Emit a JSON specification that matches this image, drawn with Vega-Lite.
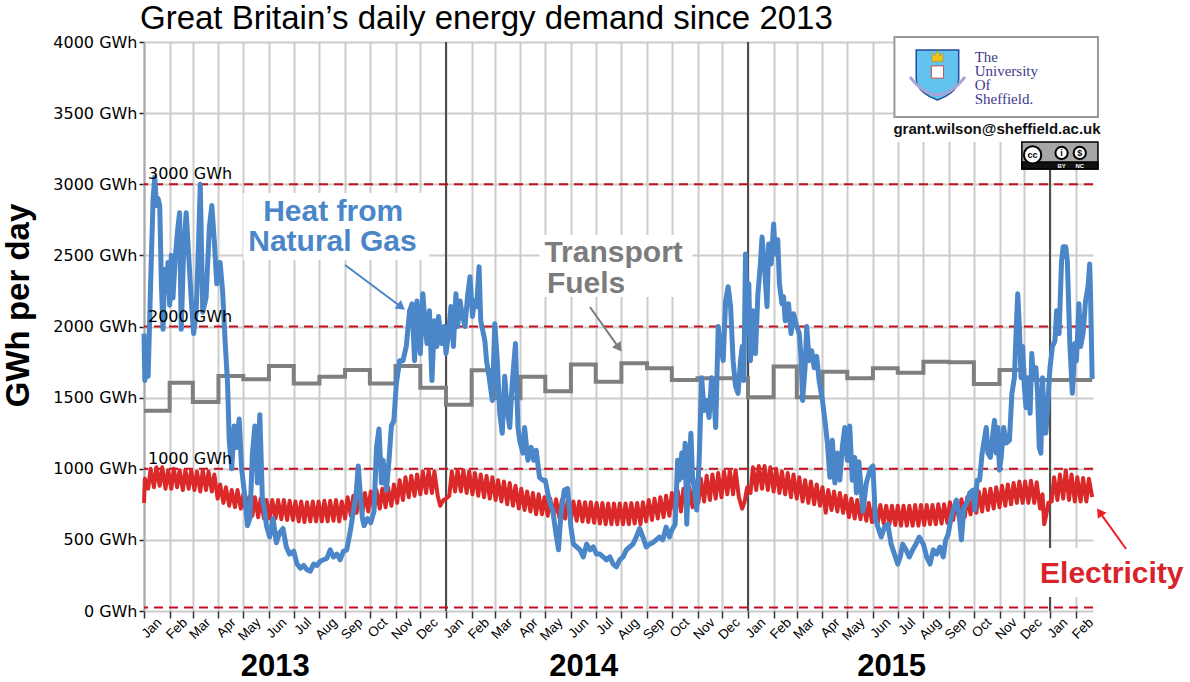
{
  "$schema": "https://vega.github.io/schema/vega-lite/v6.json",
  "width": 949,
  "height": 569,
  "autosize": {"type": "none"},
  "padding": {"left": 144, "top": 42, "right": 97, "bottom": 71},
  "background": "white",
  "title": {
    "text": "Great Britain’s daily energy demand since 2013",
    "anchor": "start",
    "frame": "group",
    "font": "Liberation Sans",
    "fontSize": 33,
    "fontWeight": "normal",
    "color": "#000000",
    "baseline": "alphabetic",
    "dx": -4,
    "offset": -28
  },
  "config": {"view": {"stroke": null}},
  "datasets": {
    "gas": [
      {"d":"2013-01-01","v":1950},{"d":"2013-01-02","v":1620},{"d":"2013-01-04","v":1760},{"d":"2013-01-06","v":1650},
      {"d":"2013-01-09","v":2300},{"d":"2013-01-12","v":2900},{"d":"2013-01-14","v":3050},{"d":"2013-01-16","v":2850},
      {"d":"2013-01-18","v":2900},{"d":"2013-01-20","v":2850},{"d":"2013-01-22","v":2300},{"d":"2013-01-24","v":1980},
      {"d":"2013-01-26","v":2400},{"d":"2013-01-28","v":2250},{"d":"2013-01-30","v":2450},{"d":"2013-02-01","v":2150},
      {"d":"2013-02-03","v":2500},{"d":"2013-02-05","v":2200},{"d":"2013-02-08","v":2500},{"d":"2013-02-11","v":2700},
      {"d":"2013-02-13","v":2800},{"d":"2013-02-15","v":1980},{"d":"2013-02-18","v":2550},{"d":"2013-02-21","v":2800},
      {"d":"2013-02-24","v":2500},{"d":"2013-02-27","v":2200},{"d":"2013-03-02","v":1950},{"d":"2013-03-05","v":2100},
      {"d":"2013-03-08","v":2600},{"d":"2013-03-10","v":3000},{"d":"2013-03-13","v":2100},{"d":"2013-03-17","v":2200},
      {"d":"2013-03-21","v":2700},{"d":"2013-03-24","v":2850},{"d":"2013-03-27","v":2600},{"d":"2013-03-30","v":2300},
      {"d":"2013-04-03","v":2450},{"d":"2013-04-06","v":2250},{"d":"2013-04-09","v":1900},{"d":"2013-04-12","v":1600},
      {"d":"2013-04-14","v":1200},{"d":"2013-04-17","v":1000},{"d":"2013-04-20","v":1300},{"d":"2013-04-23","v":1150},
      {"d":"2013-04-26","v":1350},{"d":"2013-04-29","v":1000},{"d":"2013-05-03","v":800},{"d":"2013-05-06","v":600},
      {"d":"2013-05-09","v":650},{"d":"2013-05-12","v":1100},{"d":"2013-05-15","v":1300},{"d":"2013-05-18","v":900},
      {"d":"2013-05-21","v":1380},{"d":"2013-05-24","v":800},{"d":"2013-05-27","v":700},{"d":"2013-05-29","v":600},
      {"d":"2013-06-02","v":520},{"d":"2013-06-06","v":650},{"d":"2013-06-10","v":480},{"d":"2013-06-14","v":550},
      {"d":"2013-06-18","v":580},{"d":"2013-06-22","v":450},{"d":"2013-06-26","v":400},{"d":"2013-07-01","v":420},
      {"d":"2013-07-05","v":330},{"d":"2013-07-09","v":300},{"d":"2013-07-13","v":320},{"d":"2013-07-17","v":290},
      {"d":"2013-07-21","v":280},{"d":"2013-07-25","v":330},{"d":"2013-07-29","v":320},{"d":"2013-08-02","v":350},
      {"d":"2013-08-06","v":360},{"d":"2013-08-10","v":370},{"d":"2013-08-14","v":430},{"d":"2013-08-18","v":380},
      {"d":"2013-08-22","v":400},{"d":"2013-08-26","v":360},{"d":"2013-08-30","v":420},{"d":"2013-09-03","v":430},
      {"d":"2013-09-07","v":550},{"d":"2013-09-11","v":700},{"d":"2013-09-14","v":800},{"d":"2013-09-17","v":1020},
      {"d":"2013-09-19","v":850},{"d":"2013-09-22","v":650},{"d":"2013-09-24","v":600},{"d":"2013-09-28","v":650},
      {"d":"2013-10-02","v":620},{"d":"2013-10-06","v":700},{"d":"2013-10-09","v":1150},{"d":"2013-10-12","v":1280},
      {"d":"2013-10-15","v":900},{"d":"2013-10-17","v":1060},{"d":"2013-10-21","v":850},{"d":"2013-10-24","v":1050},
      {"d":"2013-10-27","v":1300},{"d":"2013-10-30","v":1340},{"d":"2013-11-02","v":1600},{"d":"2013-11-06","v":1760},
      {"d":"2013-11-10","v":1760},{"d":"2013-11-14","v":1860},{"d":"2013-11-18","v":2110},{"d":"2013-11-21","v":2160},
      {"d":"2013-11-24","v":1760},{"d":"2013-11-27","v":2180},{"d":"2013-11-29","v":1950},{"d":"2013-12-01","v":1810},
      {"d":"2013-12-04","v":2230},{"d":"2013-12-07","v":2000},{"d":"2013-12-09","v":1880},{"d":"2013-12-12","v":2110},
      {"d":"2013-12-15","v":1620},{"d":"2013-12-18","v":2040},{"d":"2013-12-21","v":1860},{"d":"2013-12-23","v":2070},
      {"d":"2013-12-27","v":1880},{"d":"2013-12-30","v":2000},
      {"d":"2014-01-01","v":1810},{"d":"2014-01-04","v":1950},{"d":"2014-01-07","v":2140},{"d":"2014-01-10","v":1860},
      {"d":"2014-01-13","v":2230},{"d":"2014-01-15","v":2000},{"d":"2014-01-18","v":2180},{"d":"2014-01-21","v":2070},
      {"d":"2014-01-24","v":2000},{"d":"2014-01-27","v":2210},{"d":"2014-01-30","v":2350},{"d":"2014-02-02","v":2070},
      {"d":"2014-02-04","v":2180},{"d":"2014-02-07","v":2140},{"d":"2014-02-10","v":2420},{"d":"2014-02-12","v":2040},
      {"d":"2014-02-17","v":1900},{"d":"2014-02-19","v":1760},{"d":"2014-02-22","v":1650},{"d":"2014-02-26","v":1480},
      {"d":"2014-03-01","v":2020},{"d":"2014-03-04","v":1760},{"d":"2014-03-07","v":1390},{"d":"2014-03-10","v":1250},
      {"d":"2014-03-13","v":1650},{"d":"2014-03-16","v":1410},{"d":"2014-03-19","v":1290},{"d":"2014-03-22","v":1600},
      {"d":"2014-03-26","v":1880},{"d":"2014-03-29","v":1290},{"d":"2014-03-31","v":1200},{"d":"2014-04-04","v":1110},
      {"d":"2014-04-06","v":1290},{"d":"2014-04-10","v":1060},{"d":"2014-04-14","v":1150},{"d":"2014-04-17","v":1060},
      {"d":"2014-04-20","v":1130},{"d":"2014-04-24","v":940},{"d":"2014-04-28","v":920},{"d":"2014-05-01","v":920},
      {"d":"2014-05-04","v":830},{"d":"2014-05-07","v":750},{"d":"2014-05-10","v":710},{"d":"2014-05-14","v":540},
      {"d":"2014-05-17","v":430},{"d":"2014-05-20","v":690},{"d":"2014-05-24","v":850},{"d":"2014-05-28","v":860},
      {"d":"2014-06-01","v":590},{"d":"2014-06-04","v":470},{"d":"2014-06-08","v":450},{"d":"2014-06-12","v":430},
      {"d":"2014-06-16","v":380},{"d":"2014-06-20","v":470},{"d":"2014-06-24","v":430},{"d":"2014-06-28","v":450},
      {"d":"2014-07-02","v":400},{"d":"2014-07-06","v":400},{"d":"2014-07-10","v":380},{"d":"2014-07-14","v":360},
      {"d":"2014-07-18","v":380},{"d":"2014-07-22","v":330},{"d":"2014-07-26","v":310},{"d":"2014-07-30","v":360},
      {"d":"2014-08-03","v":380},{"d":"2014-08-07","v":430},{"d":"2014-08-11","v":450},{"d":"2014-08-15","v":470},
      {"d":"2014-08-19","v":520},{"d":"2014-08-23","v":580},{"d":"2014-08-27","v":520},{"d":"2014-08-31","v":450},
      {"d":"2014-09-04","v":470},{"d":"2014-09-08","v":480},{"d":"2014-09-12","v":500},{"d":"2014-09-16","v":520},
      {"d":"2014-09-20","v":500},{"d":"2014-09-24","v":590},{"d":"2014-09-28","v":520},{"d":"2014-10-01","v":570},
      {"d":"2014-10-05","v":610},{"d":"2014-10-08","v":1060},{"d":"2014-10-10","v":920},{"d":"2014-10-13","v":1110},
      {"d":"2014-10-15","v":940},{"d":"2014-10-17","v":1180},{"d":"2014-10-19","v":610},{"d":"2014-10-21","v":940},
      {"d":"2014-10-24","v":1250},{"d":"2014-10-26","v":940},{"d":"2014-10-29","v":830},{"d":"2014-10-31","v":710},
      {"d":"2014-11-03","v":1060},{"d":"2014-11-06","v":1640},{"d":"2014-11-09","v":1410},{"d":"2014-11-12","v":1480},
      {"d":"2014-11-15","v":1360},{"d":"2014-11-18","v":1640},{"d":"2014-11-21","v":1480},{"d":"2014-11-23","v":1290},
      {"d":"2014-11-26","v":2000},{"d":"2014-11-29","v":1860},{"d":"2014-12-02","v":1760},{"d":"2014-12-05","v":2180},
      {"d":"2014-12-08","v":2280},{"d":"2014-12-11","v":2140},{"d":"2014-12-14","v":1760},{"d":"2014-12-17","v":1580},
      {"d":"2014-12-20","v":1530},{"d":"2014-12-23","v":1760},{"d":"2014-12-25","v":1860},{"d":"2014-12-27","v":1620},
      {"d":"2014-12-29","v":2510},{"d":"2014-12-31","v":1950},
      {"d":"2015-01-02","v":2300},{"d":"2015-01-04","v":1760},{"d":"2015-01-07","v":2110},{"d":"2015-01-10","v":1810},
      {"d":"2015-01-13","v":2230},{"d":"2015-01-16","v":2440},{"d":"2015-01-18","v":2630},{"d":"2015-01-21","v":2420},
      {"d":"2015-01-24","v":2140},{"d":"2015-01-26","v":2580},{"d":"2015-01-29","v":2440},{"d":"2015-02-01","v":2720},
      {"d":"2015-02-03","v":2510},{"d":"2015-02-06","v":2610},{"d":"2015-02-08","v":2300},{"d":"2015-02-11","v":2160},
      {"d":"2015-02-13","v":2210},{"d":"2015-02-15","v":2040},{"d":"2015-02-19","v":2160},{"d":"2015-02-22","v":1950},
      {"d":"2015-02-25","v":2090},{"d":"2015-03-01","v":2000},{"d":"2015-03-04","v":1950},{"d":"2015-03-06","v":1790},
      {"d":"2015-03-08","v":1480},{"d":"2015-03-11","v":1710},{"d":"2015-03-13","v":2000},{"d":"2015-03-16","v":1760},
      {"d":"2015-03-19","v":1830},{"d":"2015-03-22","v":1710},{"d":"2015-03-25","v":1790},{"d":"2015-03-28","v":1620},
      {"d":"2015-04-01","v":1480},{"d":"2015-04-04","v":1340},{"d":"2015-04-07","v":1180},{"d":"2015-04-10","v":940},
      {"d":"2015-04-13","v":1200},{"d":"2015-04-16","v":900},{"d":"2015-04-19","v":1110},{"d":"2015-04-22","v":920},
      {"d":"2015-04-25","v":1150},{"d":"2015-04-28","v":1290},{"d":"2015-05-01","v":1060},{"d":"2015-05-04","v":1300},
      {"d":"2015-05-07","v":920},{"d":"2015-05-10","v":1080},{"d":"2015-05-12","v":830},{"d":"2015-05-15","v":1050},
      {"d":"2015-05-20","v":700},{"d":"2015-05-24","v":900},{"d":"2015-05-29","v":1000},{"d":"2015-06-01","v":1020},
      {"d":"2015-06-04","v":650},{"d":"2015-06-07","v":590},{"d":"2015-06-11","v":520},{"d":"2015-06-15","v":590},
      {"d":"2015-06-19","v":610},{"d":"2015-06-23","v":470},{"d":"2015-06-27","v":400},{"d":"2015-07-01","v":330},
      {"d":"2015-07-04","v":380},{"d":"2015-07-07","v":470},{"d":"2015-07-11","v":430},{"d":"2015-07-15","v":380},
      {"d":"2015-07-19","v":430},{"d":"2015-07-23","v":470},{"d":"2015-07-27","v":520},{"d":"2015-08-01","v":470},
      {"d":"2015-08-05","v":380},{"d":"2015-08-09","v":330},{"d":"2015-08-13","v":430},{"d":"2015-08-17","v":400},
      {"d":"2015-08-21","v":450},{"d":"2015-08-25","v":380},{"d":"2015-08-28","v":500},{"d":"2015-08-31","v":540},
      {"d":"2015-09-03","v":640},{"d":"2015-09-06","v":710},{"d":"2015-09-10","v":780},{"d":"2015-09-13","v":690},
      {"d":"2015-09-16","v":500},{"d":"2015-09-19","v":730},{"d":"2015-09-22","v":750},{"d":"2015-09-26","v":830},
      {"d":"2015-09-30","v":850},{"d":"2015-10-02","v":710},{"d":"2015-10-05","v":920},{"d":"2015-10-08","v":920},
      {"d":"2015-10-11","v":1110},{"d":"2015-10-13","v":1180},{"d":"2015-10-16","v":1290},{"d":"2015-10-18","v":1110},
      {"d":"2015-10-21","v":1080},{"d":"2015-10-24","v":1250},{"d":"2015-10-26","v":1340},{"d":"2015-10-28","v":1110},
      {"d":"2015-10-30","v":1290},{"d":"2015-11-01","v":990},{"d":"2015-11-03","v":1080},{"d":"2015-11-06","v":1290},
      {"d":"2015-11-09","v":1180},{"d":"2015-11-13","v":1200},{"d":"2015-11-16","v":1530},{"d":"2015-11-19","v":1640},
      {"d":"2015-11-21","v":1950},{"d":"2015-11-23","v":2230},{"d":"2015-11-25","v":2000},{"d":"2015-11-27","v":1640},
      {"d":"2015-11-29","v":1860},{"d":"2015-12-01","v":1580},{"d":"2015-12-03","v":1430},{"d":"2015-12-05","v":1640},
      {"d":"2015-12-08","v":1390},{"d":"2015-12-10","v":1810},{"d":"2015-12-12","v":1640},{"d":"2015-12-15","v":1710},
      {"d":"2015-12-17","v":1530},{"d":"2015-12-19","v":1150},{"d":"2015-12-21","v":1110},{"d":"2015-12-23","v":1640},
      {"d":"2015-12-25","v":1290},{"d":"2015-12-27","v":1250},{"d":"2015-12-29","v":1430},
      {"d":"2016-01-01","v":1710},{"d":"2016-01-04","v":1860},{"d":"2016-01-07","v":1900},{"d":"2016-01-09","v":2110},
      {"d":"2016-01-12","v":1950},{"d":"2016-01-15","v":2460},{"d":"2016-01-17","v":2560},{"d":"2016-01-20","v":2560},
      {"d":"2016-01-22","v":2460},{"d":"2016-01-25","v":1880},{"d":"2016-01-28","v":1530},{"d":"2016-01-31","v":1880},
      {"d":"2016-02-02","v":1760},{"d":"2016-02-05","v":2160},{"d":"2016-02-07","v":1860},{"d":"2016-02-10","v":1950},
      {"d":"2016-02-13","v":2180},{"d":"2016-02-16","v":2280},{"d":"2016-02-18","v":2440},{"d":"2016-02-19","v":2230},
      {"d":"2016-02-21","v":1630}
    ],
    "elec": [
      {"d":"2013-01-01","v":760},{"d":"2013-01-02","v":930},{"d":"2013-01-06","v":860},{"d":"2013-01-09","v":1000},
      {"d":"2013-01-13","v":870},{"d":"2013-01-16","v":1010},{"d":"2013-01-20","v":880},{"d":"2013-01-23","v":1010},
      {"d":"2013-01-27","v":860},{"d":"2013-01-30","v":990},{"d":"2013-02-03","v":860},{"d":"2013-02-06","v":1000},
      {"d":"2013-02-10","v":870},{"d":"2013-02-13","v":990},{"d":"2013-02-17","v":850},{"d":"2013-02-20","v":990},
      {"d":"2013-02-24","v":860},{"d":"2013-02-27","v":990},{"d":"2013-03-03","v":850},{"d":"2013-03-06","v":980},
      {"d":"2013-03-10","v":840},{"d":"2013-03-13","v":990},{"d":"2013-03-17","v":850},{"d":"2013-03-20","v":980},
      {"d":"2013-03-24","v":840},{"d":"2013-03-27","v":960},{"d":"2013-03-31","v":790},{"d":"2013-04-03","v":890},
      {"d":"2013-04-07","v":760},{"d":"2013-04-10","v":870},{"d":"2013-04-14","v":740},{"d":"2013-04-17","v":850},
      {"d":"2013-04-21","v":730},{"d":"2013-04-24","v":850},{"d":"2013-04-28","v":720},{"d":"2013-05-01","v":820},
      {"d":"2013-05-05","v":680},{"d":"2013-05-08","v":800},{"d":"2013-05-12","v":670},{"d":"2013-05-15","v":800},
      {"d":"2013-05-19","v":660},{"d":"2013-05-22","v":790},{"d":"2013-05-26","v":650},{"d":"2013-05-29","v":780},
      {"d":"2013-06-02","v":650},{"d":"2013-06-05","v":780},{"d":"2013-06-09","v":650},{"d":"2013-06-12","v":780},
      {"d":"2013-06-16","v":645},{"d":"2013-06-19","v":780},{"d":"2013-06-23","v":640},{"d":"2013-06-26","v":775},
      {"d":"2013-06-30","v":640},{"d":"2013-07-03","v":770},{"d":"2013-07-07","v":630},{"d":"2013-07-10","v":770},
      {"d":"2013-07-14","v":625},{"d":"2013-07-17","v":765},{"d":"2013-07-21","v":630},{"d":"2013-07-24","v":770},
      {"d":"2013-07-28","v":630},{"d":"2013-07-31","v":770},{"d":"2013-08-04","v":630},{"d":"2013-08-07","v":775},
      {"d":"2013-08-11","v":630},{"d":"2013-08-14","v":775},{"d":"2013-08-18","v":635},{"d":"2013-08-21","v":780},
      {"d":"2013-08-25","v":630},{"d":"2013-08-28","v":770},{"d":"2013-09-01","v":650},{"d":"2013-09-04","v":800},
      {"d":"2013-09-08","v":670},{"d":"2013-09-11","v":810},{"d":"2013-09-15","v":690},{"d":"2013-09-18","v":820},
      {"d":"2013-09-22","v":690},{"d":"2013-09-25","v":830},{"d":"2013-09-29","v":700},{"d":"2013-10-02","v":840},
      {"d":"2013-10-06","v":710},{"d":"2013-10-09","v":850},{"d":"2013-10-13","v":720},{"d":"2013-10-16","v":860},
      {"d":"2013-10-20","v":730},{"d":"2013-10-23","v":870},{"d":"2013-10-27","v":740},{"d":"2013-10-30","v":890},
      {"d":"2013-11-03","v":760},{"d":"2013-11-06","v":920},{"d":"2013-11-10","v":780},{"d":"2013-11-13","v":940},
      {"d":"2013-11-17","v":800},{"d":"2013-11-20","v":950},{"d":"2013-11-24","v":810},{"d":"2013-11-27","v":960},
      {"d":"2013-12-01","v":820},{"d":"2013-12-04","v":980},{"d":"2013-12-08","v":830},{"d":"2013-12-11","v":990},
      {"d":"2013-12-15","v":830},{"d":"2013-12-18","v":980},{"d":"2013-12-22","v":810},{"d":"2013-12-25","v":740},
      {"d":"2013-12-29","v":780},
      {"d":"2014-01-01","v":790},{"d":"2014-01-05","v":810},{"d":"2014-01-08","v":980},{"d":"2014-01-12","v":840},
      {"d":"2014-01-15","v":990},{"d":"2014-01-19","v":840},{"d":"2014-01-22","v":990},{"d":"2014-01-26","v":830},
      {"d":"2014-01-29","v":980},{"d":"2014-02-02","v":820},{"d":"2014-02-05","v":970},{"d":"2014-02-09","v":810},
      {"d":"2014-02-12","v":960},{"d":"2014-02-16","v":800},{"d":"2014-02-19","v":950},{"d":"2014-02-23","v":790},
      {"d":"2014-02-26","v":940},{"d":"2014-03-02","v":780},{"d":"2014-03-05","v":920},{"d":"2014-03-09","v":770},
      {"d":"2014-03-12","v":910},{"d":"2014-03-16","v":750},{"d":"2014-03-19","v":900},{"d":"2014-03-23","v":740},
      {"d":"2014-03-26","v":880},{"d":"2014-03-30","v":720},{"d":"2014-04-02","v":860},{"d":"2014-04-06","v":710},
      {"d":"2014-04-09","v":840},{"d":"2014-04-13","v":700},{"d":"2014-04-16","v":830},{"d":"2014-04-20","v":680},
      {"d":"2014-04-23","v":820},{"d":"2014-04-27","v":680},{"d":"2014-04-30","v":800},{"d":"2014-05-04","v":670},
      {"d":"2014-05-07","v":790},{"d":"2014-05-11","v":660},{"d":"2014-05-14","v":785},{"d":"2014-05-18","v":655},
      {"d":"2014-05-21","v":780},{"d":"2014-05-25","v":650},{"d":"2014-05-28","v":775},{"d":"2014-06-01","v":640},
      {"d":"2014-06-04","v":770},{"d":"2014-06-08","v":635},{"d":"2014-06-11","v":770},{"d":"2014-06-15","v":630},
      {"d":"2014-06-18","v":765},{"d":"2014-06-22","v":625},{"d":"2014-06-25","v":765},{"d":"2014-06-29","v":620},
      {"d":"2014-07-02","v":760},{"d":"2014-07-06","v":615},{"d":"2014-07-09","v":760},{"d":"2014-07-13","v":610},
      {"d":"2014-07-16","v":755},{"d":"2014-07-20","v":610},{"d":"2014-07-23","v":755},{"d":"2014-07-27","v":610},
      {"d":"2014-07-30","v":755},{"d":"2014-08-03","v":610},{"d":"2014-08-06","v":755},{"d":"2014-08-10","v":610},
      {"d":"2014-08-13","v":760},{"d":"2014-08-17","v":615},{"d":"2014-08-20","v":760},{"d":"2014-08-24","v":610},
      {"d":"2014-08-27","v":765},{"d":"2014-08-31","v":630},{"d":"2014-09-03","v":780},{"d":"2014-09-07","v":640},
      {"d":"2014-09-10","v":790},{"d":"2014-09-14","v":650},{"d":"2014-09-17","v":800},{"d":"2014-09-21","v":660},
      {"d":"2014-09-24","v":810},{"d":"2014-09-28","v":670},{"d":"2014-10-01","v":830},{"d":"2014-10-05","v":690},
      {"d":"2014-10-08","v":845},{"d":"2014-10-12","v":700},{"d":"2014-10-15","v":860},{"d":"2014-10-19","v":710},
      {"d":"2014-10-22","v":870},{"d":"2014-10-26","v":730},{"d":"2014-10-29","v":900},{"d":"2014-11-02","v":760},
      {"d":"2014-11-05","v":930},{"d":"2014-11-09","v":770},{"d":"2014-11-12","v":950},{"d":"2014-11-16","v":780},
      {"d":"2014-11-19","v":960},{"d":"2014-11-23","v":790},{"d":"2014-11-26","v":970},{"d":"2014-11-30","v":800},
      {"d":"2014-12-03","v":980},{"d":"2014-12-07","v":820},{"d":"2014-12-10","v":990},{"d":"2014-12-14","v":820},
      {"d":"2014-12-17","v":990},{"d":"2014-12-21","v":800},{"d":"2014-12-25","v":720},{"d":"2014-12-28","v":770},
      {"d":"2014-12-31","v":870},
      {"d":"2015-01-04","v":830},{"d":"2015-01-07","v":1010},{"d":"2015-01-11","v":850},{"d":"2015-01-14","v":1020},
      {"d":"2015-01-18","v":860},{"d":"2015-01-21","v":1020},{"d":"2015-01-25","v":850},{"d":"2015-01-28","v":1010},
      {"d":"2015-02-01","v":840},{"d":"2015-02-04","v":1000},{"d":"2015-02-08","v":830},{"d":"2015-02-11","v":980},
      {"d":"2015-02-15","v":820},{"d":"2015-02-18","v":970},{"d":"2015-02-22","v":800},{"d":"2015-02-25","v":960},
      {"d":"2015-03-01","v":790},{"d":"2015-03-04","v":940},{"d":"2015-03-08","v":770},{"d":"2015-03-11","v":920},
      {"d":"2015-03-15","v":760},{"d":"2015-03-18","v":910},{"d":"2015-03-22","v":750},{"d":"2015-03-25","v":890},
      {"d":"2015-03-29","v":740},{"d":"2015-04-01","v":870},{"d":"2015-04-05","v":690},{"d":"2015-04-08","v":850},
      {"d":"2015-04-12","v":710},{"d":"2015-04-15","v":840},{"d":"2015-04-19","v":700},{"d":"2015-04-22","v":830},
      {"d":"2015-04-26","v":690},{"d":"2015-04-29","v":810},{"d":"2015-05-03","v":660},{"d":"2015-05-06","v":790},
      {"d":"2015-05-10","v":650},{"d":"2015-05-13","v":780},{"d":"2015-05-17","v":645},{"d":"2015-05-20","v":770},
      {"d":"2015-05-24","v":635},{"d":"2015-05-27","v":760},{"d":"2015-05-31","v":625},{"d":"2015-06-03","v":750},
      {"d":"2015-06-07","v":620},{"d":"2015-06-10","v":745},{"d":"2015-06-14","v":615},{"d":"2015-06-17","v":740},
      {"d":"2015-06-21","v":610},{"d":"2015-06-24","v":740},{"d":"2015-06-28","v":605},{"d":"2015-07-01","v":740},
      {"d":"2015-07-05","v":600},{"d":"2015-07-08","v":740},{"d":"2015-07-12","v":600},{"d":"2015-07-15","v":740},
      {"d":"2015-07-19","v":600},{"d":"2015-07-22","v":745},{"d":"2015-07-26","v":600},{"d":"2015-07-29","v":745},
      {"d":"2015-08-02","v":605},{"d":"2015-08-05","v":745},{"d":"2015-08-09","v":610},{"d":"2015-08-12","v":745},
      {"d":"2015-08-16","v":610},{"d":"2015-08-19","v":750},{"d":"2015-08-23","v":615},{"d":"2015-08-26","v":750},
      {"d":"2015-08-30","v":620},{"d":"2015-09-02","v":765},{"d":"2015-09-06","v":640},{"d":"2015-09-09","v":775},
      {"d":"2015-09-13","v":650},{"d":"2015-09-16","v":785},{"d":"2015-09-20","v":660},{"d":"2015-09-23","v":800},
      {"d":"2015-09-27","v":680},{"d":"2015-09-30","v":820},{"d":"2015-10-04","v":690},{"d":"2015-10-07","v":840},
      {"d":"2015-10-11","v":700},{"d":"2015-10-14","v":855},{"d":"2015-10-18","v":710},{"d":"2015-10-21","v":860},
      {"d":"2015-10-25","v":720},{"d":"2015-10-28","v":870},{"d":"2015-11-01","v":730},{"d":"2015-11-04","v":880},
      {"d":"2015-11-08","v":740},{"d":"2015-11-11","v":890},{"d":"2015-11-15","v":750},{"d":"2015-11-18","v":900},
      {"d":"2015-11-22","v":760},{"d":"2015-11-25","v":910},{"d":"2015-11-29","v":760},{"d":"2015-12-02","v":910},
      {"d":"2015-12-06","v":760},{"d":"2015-12-09","v":915},{"d":"2015-12-13","v":760},{"d":"2015-12-16","v":905},
      {"d":"2015-12-20","v":720},{"d":"2015-12-23","v":820},{"d":"2015-12-25","v":610},{"d":"2015-12-27","v":660},
      {"d":"2015-12-30","v":760},
      {"d":"2016-01-03","v":770},{"d":"2016-01-06","v":940},{"d":"2016-01-10","v":780},{"d":"2016-01-13","v":960},
      {"d":"2016-01-17","v":790},{"d":"2016-01-20","v":990},{"d":"2016-01-24","v":780},{"d":"2016-01-27","v":960},
      {"d":"2016-01-31","v":770},{"d":"2016-02-03","v":940},{"d":"2016-02-07","v":770},{"d":"2016-02-10","v":935},
      {"d":"2016-02-14","v":770},{"d":"2016-02-17","v":930},{"d":"2016-02-21","v":800}
    ],
    "fuel": [
      {"d":"2013-01-01","v":1408},{"d":"2013-02-01","v":1605},{"d":"2013-03-01","v":1469},{"d":"2013-04-01","v":1652},
      {"d":"2013-05-01","v":1629},{"d":"2013-06-01","v":1722},{"d":"2013-07-01","v":1600},{"d":"2013-08-01","v":1647},
      {"d":"2013-09-01","v":1694},{"d":"2013-10-01","v":1600},{"d":"2013-11-01","v":1722},{"d":"2013-12-01","v":1570},
      {"d":"2014-01-01","v":1450},{"d":"2014-02-01","v":1692},{"d":"2014-03-01","v":1495},{"d":"2014-04-01","v":1647},
      {"d":"2014-05-01","v":1545},{"d":"2014-06-01","v":1732},{"d":"2014-07-01","v":1612},{"d":"2014-08-01","v":1741},
      {"d":"2014-09-01","v":1706},{"d":"2014-10-01","v":1624},{"d":"2014-11-01","v":1636},{"d":"2014-12-01","v":1636},
      {"d":"2015-01-01","v":1502},{"d":"2015-02-01","v":1718},{"d":"2015-03-01","v":1502},{"d":"2015-04-01","v":1682},
      {"d":"2015-05-01","v":1636},{"d":"2015-06-01","v":1706},{"d":"2015-07-01","v":1675},{"d":"2015-08-01","v":1753},
      {"d":"2015-09-01","v":1748},{"d":"2015-10-01","v":1596},{"d":"2015-11-01","v":1694},{"d":"2015-12-01","v":1624},
      {"d":"2016-01-01","v":1624},{"d":"2016-02-01","v":1624},{"d":"2016-02-21","v":1624}
    ]
  },
  "resolve": {"scale": {"x": "independent"}},
  "layer": [
    {
      "data": {"values": [{"d": "2014-01-01"}, {"d": "2015-01-01"}, {"d": "2016-01-01"}]},
      "mark": {"type": "rule", "color": "#4d4d4d", "strokeWidth": 2},
      "encoding": {
        "x": {
          "field": "d", "type": "temporal",
          "scale": {"type": "utc", "nice": false, "domain": [{"year": 2013, "month": 1, "date": 1, "utc": true}, {"year": 2016, "month": 2, "date": 22, "utc": true}]},
          "axis": {
            "orient": "bottom", "title": null,
            "values": [{"year": 2013, "month": 6, "date": 8, "utc": true}, {"year": 2014, "month": 6, "date": 16, "utc": true}, {"year": 2015, "month": 6, "date": 23, "utc": true}],
            "format": "%Y", "labelFont": "Liberation Sans", "labelFontSize": 31, "labelFontWeight": "bold", "labelColor": "#000000",
            "labelAngle": 0, "labelAlign": "center", "labelBaseline": "top", "labelPadding": 40,
            "labelFlush": false, "labelOverlap": false, "ticks": false, "tickSize": 0, "domain": false, "grid": false
          }
        }
      }
    },
    {
      "layer": [
        {
          "data": {"values": [{"v": 25}, {"v": 1000}, {"v": 2000}, {"v": 3000}]},
          "mark": {"type": "rule", "color": "#c40f1f", "strokeWidth": 2, "strokeDash": [9, 6]},
          "encoding": {
            "y": {
              "field": "v", "type": "quantitative",
              "scale": {"domain": [0, 4000], "nice": false, "zero": false},
              "axis": {
                "values": [0, 500, 1000, 1500, 2000, 2500, 3000, 3500, 4000],
                "labelExpr": "datum.value + ' GWh'",
                "labelFont": "DejaVu Sans", "labelFontSize": 16, "labelColor": "#000000", "labelPadding": 2, "labelFlush": false,
                "tickSize": 5, "tickColor": "#222222", "tickWidth": 1.5,
                "domainColor": "#aaaaaa", "domainWidth": 2,
                "grid": true, "gridColor": "#cccccc", "gridWidth": 2,
                "title": "GWh per day", "titleFont": "Liberation Sans", "titleFontSize": 33, "titleFontWeight": "bold", "titleColor": "#000000",
                "titleAngle": -90, "titleX": -116, "titleY": 263, "titleAlign": "center", "titleBaseline": "alphabetic"
              }
            }
          }
        },
        {
          "data": {"values": [
            {"d": "2013-05-01", "d2": "2013-12-12", "v": 2938, "v2": 2467},
            {"d": "2014-04-24", "d2": "2014-10-26", "v": 2643, "v2": 2207},
            {"d": "2015-12-14", "d2": "2016-06-18", "v": 443, "v2": 98},
            {"d": "2015-06-27", "d2": "2016-02-28", "v": 4035, "v2": 3297}
          ]},
          "mark": {"type": "rect", "color": "#ffffff"},
          "encoding": {
            "x": {
              "field": "d", "type": "temporal",
              "scale": {"type": "utc", "nice": false, "domain": [{"year": 2013, "month": 1, "date": 1, "utc": true}, {"year": 2016, "month": 2, "date": 22, "utc": true}]},
              "axis": {
                "orient": "bottom", "title": null,
                "tickCount": {"interval": "month", "step": 1},
                "format": "%b", "labelFont": "Liberation Sans", "labelFontSize": 13.5, "labelColor": "#000000",
                "labelAngle": -45, "labelAlign": "right", "labelBaseline": "middle", "labelOffset": 15, "labelPadding": 2,
                "labelFlush": false, "labelOverlap": false, "labelBound": false,
                "tickSize": 7, "tickColor": "#333333", "tickWidth": 1.5, "domain": false,
                "grid": true, "gridColor": "#cccccc", "gridWidth": 2
              }
            },
            "x2": {"field": "d2"},
            "y": {"field": "v", "type": "quantitative"},
            "y2": {"field": "v2"}
          }
        },
        {
          "data": {"name": "fuel"},
          "mark": {"type": "line", "color": "#7f7f7f", "strokeWidth": 4, "interpolate": "step-after"},
          "encoding": {"x": {"field": "d", "type": "temporal"}, "y": {"field": "v", "type": "quantitative"}}
        },
        {
          "data": {"name": "elec"},
          "mark": {"type": "line", "color": "#db2828", "strokeWidth": 4, "strokeJoin": "round"},
          "encoding": {"x": {"field": "d", "type": "temporal"}, "y": {"field": "v", "type": "quantitative"}}
        },
        {
          "data": {"name": "gas"},
          "mark": {"type": "line", "color": "#4a86c8", "strokeWidth": 5, "strokeJoin": "round"},
          "encoding": {"x": {"field": "d", "type": "temporal"}, "y": {"field": "v", "type": "quantitative"}}
        },
        {
          "data": {"values": [
            {"d": "2013-09-01", "v": 2432, "d2": "2013-11-08", "v2": 2137, "c": "#4a86c8", "a": 127},
            {"d": "2014-06-24", "v": 2137, "d2": "2014-07-29", "v2": 1850, "c": "#7c7c7c", "a": 145},
            {"d": "2016-04-02", "v": 436, "d2": "2016-03-01", "v2": 695, "c": "#ee1c25", "a": 325}
          ]},
          "layer": [
            {
              "mark": {"type": "rule", "strokeWidth": 2},
              "encoding": {
                "x": {"field": "d", "type": "temporal"}, "x2": {"field": "d2"},
                "y": {"field": "v", "type": "quantitative"}, "y2": {"field": "v2"},
                "color": {"field": "c", "type": "nominal", "scale": null}
              }
            },
            {
              "mark": {"type": "point", "shape": "triangle-up", "filled": true, "size": 110, "opacity": 1},
              "encoding": {
                "x": {"field": "d2", "type": "temporal"},
                "y": {"field": "v2", "type": "quantitative"},
                "angle": {"field": "a", "type": "quantitative", "scale": null},
                "color": {"field": "c", "type": "nominal", "scale": null}
              }
            }
          ]
        },
        {
          "data": {"values": [
            {"d": "2013-05-25", "v": 2742, "t": "Heat from", "c": "#4a86c8"},
            {"d": "2013-05-07", "v": 2531, "t": "Natural Gas", "c": "#4a86c8"},
            {"d": "2014-04-30", "v": 2453, "t": "Transport", "c": "#7c7c7c"},
            {"d": "2014-05-03", "v": 2236, "t": "Fuels", "c": "#7c7c7c"},
            {"d": "2015-12-20", "v": 197, "t": "Electricity", "c": "#d9232a"}
          ]},
          "mark": {"type": "text", "font": "Liberation Sans", "fontSize": 30, "fontWeight": "bold", "align": "left", "baseline": "alphabetic"},
          "encoding": {
            "x": {"field": "d", "type": "temporal"},
            "y": {"field": "v", "type": "quantitative"},
            "text": {"field": "t"},
            "color": {"field": "c", "type": "nominal", "scale": null}
          }
        },
        {
          "data": {"values": [
            {"d": "2013-01-01", "v": 3000, "t": "3000 GWh"},
            {"d": "2013-01-01", "v": 2000, "t": "2000 GWh"},
            {"d": "2013-01-01", "v": 1000, "t": "1000 GWh"}
          ]},
          "mark": {"type": "text", "font": "DejaVu Sans", "fontSize": 16, "color": "#000000", "align": "left", "baseline": "alphabetic", "dx": 4, "dy": -5},
          "encoding": {
            "x": {"field": "d", "type": "temporal"},
            "y": {"field": "v", "type": "quantitative"},
            "text": {"field": "t"}
          }
        },
        {
          "data": {"values": [{"d": "2015-06-27", "d2": "2016-02-28", "v": 4035, "v2": 3473}]},
          "mark": {"type": "rect", "fill": "#ffffff", "stroke": "#999999", "strokeWidth": 2},
          "encoding": {
            "x": {"field": "d", "type": "temporal"}, "x2": {"field": "d2"},
            "y": {"field": "v", "type": "quantitative"}, "y2": {"field": "v2"}
          }
        },
        {
          "data": {"values": [{"d": "2015-08-18", "v": 3768}]},
          "mark": {"type": "point", "shape": "M-0.85,-1L0.85,-1L0.85,0.15C0.85,0.6 0.35,0.88 0,1C-0.35,0.88 -0.85,0.6 -0.85,0.15Z", "size": 2500, "filled": true, "fill": "#62c3ee", "stroke": "#1f4e9a", "strokeWidth": 1.5, "opacity": 1},
          "encoding": {"x": {"field": "d", "type": "temporal"}, "y": {"field": "v", "type": "quantitative"}}
        },
        {
          "data": {"values": [{"d": "2015-08-18", "v": 3677}]},
          "mark": {"type": "point", "shape": "M-1,-0.4Q0,0.9 1,-0.4", "size": 3025, "filled": false, "stroke": "#a9a3d6", "strokeWidth": 3, "opacity": 1},
          "encoding": {"x": {"field": "d", "type": "temporal"}, "y": {"field": "v", "type": "quantitative"}}
        },
        {
          "data": {"values": [{"d": "2015-08-18", "v": 3789}]},
          "mark": {"type": "square", "size": 150, "filled": true, "fill": "#ffffff", "stroke": "#c0504d", "strokeWidth": 1, "opacity": 1},
          "encoding": {"x": {"field": "d", "type": "temporal"}, "y": {"field": "v", "type": "quantitative"}}
        },
        {
          "data": {"values": [{"d": "2015-08-18", "v": 3902}]},
          "mark": {"type": "point", "shape": "M-1,1L-1,-0.6L-0.5,0L0,-1L0.5,0L1,-0.6L1,1Z", "size": 120, "filled": true, "fill": "#f2c21b", "stroke": "#b08a00", "strokeWidth": 0.5, "opacity": 1},
          "encoding": {"x": {"field": "d", "type": "temporal"}, "y": {"field": "v", "type": "quantitative"}}
        },
        {
          "data": {"values": [
            {"d": "2015-10-02", "v": 3859, "t": "The"},
            {"d": "2015-10-02", "v": 3761, "t": "University"},
            {"d": "2015-10-02", "v": 3663, "t": "Of"},
            {"d": "2015-10-02", "v": 3564, "t": "Sheffield."}
          ]},
          "mark": {"type": "text", "font": "Liberation Serif", "fontSize": 15, "color": "#3d3a8c", "align": "left", "baseline": "alphabetic"},
          "encoding": {
            "x": {"field": "d", "type": "temporal"},
            "y": {"field": "v", "type": "quantitative"},
            "text": {"field": "t"}
          }
        },
        {
          "data": {"values": [{"d": "2015-10-29", "v": 3353, "t": "grant.wilson@sheffield.ac.uk"}]},
          "mark": {"type": "text", "font": "Liberation Sans", "fontSize": 15, "fontWeight": "bold", "color": "#111111", "align": "center", "baseline": "alphabetic"},
          "encoding": {
            "x": {"field": "d", "type": "temporal"},
            "y": {"field": "v", "type": "quantitative"},
            "text": {"field": "t"}
          }
        },
        {
          "data": {"values": [
            {"d": "2015-11-28", "d2": "2016-02-28", "v": 3297, "v2": 3107, "c": "#a6a6a6"},
            {"d": "2015-11-28", "d2": "2016-02-28", "v": 3156, "v2": 3107, "c": "#111111"}
          ]},
          "mark": {"type": "rect", "stroke": "#000000", "strokeWidth": 1.5},
          "encoding": {
            "x": {"field": "d", "type": "temporal"}, "x2": {"field": "d2"},
            "y": {"field": "v", "type": "quantitative"}, "y2": {"field": "v2"},
            "color": {"field": "c", "type": "nominal", "scale": null}
          }
        },
        {
          "data": {"values": [
            {"d": "2015-12-11", "v": 3206, "s": 300, "t": "cc"},
            {"d": "2016-01-15", "v": 3220, "s": 150, "t": "i"},
            {"d": "2016-02-06", "v": 3220, "s": 150, "t": "$"}
          ]},
          "layer": [
            {
              "mark": {"type": "circle", "fill": "#ffffff", "stroke": "#000000", "strokeWidth": 2, "opacity": 1},
              "encoding": {
                "x": {"field": "d", "type": "temporal"},
                "y": {"field": "v", "type": "quantitative"},
                "size": {"field": "s", "type": "quantitative", "scale": null}
              }
            },
            {
              "mark": {"type": "text", "font": "Liberation Sans", "fontSize": 9, "fontWeight": "bold", "color": "#000000", "baseline": "middle"},
              "encoding": {
                "x": {"field": "d", "type": "temporal"},
                "y": {"field": "v", "type": "quantitative"},
                "text": {"field": "t"}
              }
            }
          ]
        },
        {
          "data": {"values": [
            {"d": "2016-01-15", "v": 3128, "t": "BY"},
            {"d": "2016-02-06", "v": 3128, "t": "NC"}
          ]},
          "mark": {"type": "text", "font": "Liberation Sans", "fontSize": 6, "fontWeight": "bold", "color": "#ffffff", "baseline": "middle"},
          "encoding": {
            "x": {"field": "d", "type": "temporal"},
            "y": {"field": "v", "type": "quantitative"},
            "text": {"field": "t"}
          }
        }
      ]
    }
  ]
}
